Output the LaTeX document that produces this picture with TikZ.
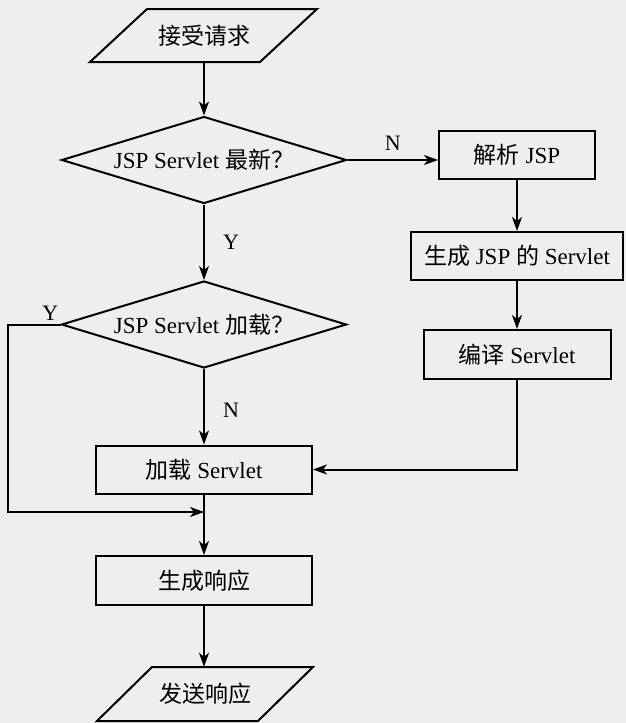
\documentclass[tikz,border=0pt]{standalone}
\usepackage{fontspec}
\setmainfont{Liberation Serif}
\newfontfamily\cjk{Noto Sans CJK SC}
\usetikzlibrary{shapes.geometric,arrows.meta}
\definecolor{paper}{RGB}{238,238,236}
\begin{document}
\begin{tikzpicture}[x=1pt,y=-1pt,
  every node/.style={font=\fontsize{23}{27}\selectfont, inner sep=0pt},
  box/.style={draw, line width=2pt, minimum width=#1, minimum height=48pt},
  box/.default=216pt,
  dia/.style={draw, diamond, line width=2pt, minimum width=285pt, minimum height=87pt, aspect=3.3},
  lab/.style={font=\fontsize{22}{26}\selectfont},
  link/.style={line width=2pt, -{Stealth[length=14pt,width=10pt,inset=4pt]}},
  shapeline/.style={draw, line width=2pt, line join=miter}
]
\fill[paper] (0,0) rectangle (626,723);
\useasboundingbox (0,0) rectangle (626,723);

% nodes
\node[minimum height=53pt] (start) at (204,35.5) {{\cjk 接受请求}};
\draw[shapeline] (147,9) -- (317,9) -- (260,62) -- (90,62) -- cycle;

\node[dia] (d1) at (204,160) {JSP Servlet {\cjk 最新？}};
\node[box=156pt] (p1) at (517,155) {{\cjk 解析} JSP};
\node[box=212pt] (p2) at (517,256) {{\cjk 生成} JSP {\cjk 的} Servlet};
\node[box=187pt, minimum height=49pt] (p3) at (517,354.5) {{\cjk 编译} Servlet};
\node[dia] (d2) at (204,324.5) {JSP Servlet {\cjk 加载？}};
\node[box] (load) at (204,469.5) {{\cjk 加载} Servlet};
\node[box, minimum height=49pt] (gen) at (204,580.5) {{\cjk 生成响应}};

\node[minimum height=54pt] (send) at (205,694) {{\cjk 发送响应}};
\draw[shapeline] (152,667) -- (313,667) -- (258,721) -- (97,721) -- cycle;

\coordinate (join) at (204,512);
\coordinate (lft) at (8,512);

% connectors
\draw[link] (start.south) -- (d1.north);
\draw[link] (d1.east) -- node[lab, above=9pt] {N} (d1.east -| p1.west);
\draw[link] (d1.south) -- node[lab, right=18pt] {Y} (d2.north);
\draw[link] (p1.south) -- (p2.north);
\draw[link] (p2.south) -- (p3.north);
\draw[link] (d2.south) -- node[lab, right=18pt, yshift=-4pt] {N} (load.north);
\draw[link] (p3.south) |- (load.east);
\draw[line width=2pt] (load.south) -- (join);
\draw[link] (join) -- (gen.north);
\draw[link] (d2.west) -| (lft) -- (join);
\node[lab, anchor=south east, xshift=-2pt, yshift=4pt] (yl) at (d2.west) {Y};
\draw[link] (gen.south) -- (gen.south |- send.north);
\end{tikzpicture}
\end{document}
